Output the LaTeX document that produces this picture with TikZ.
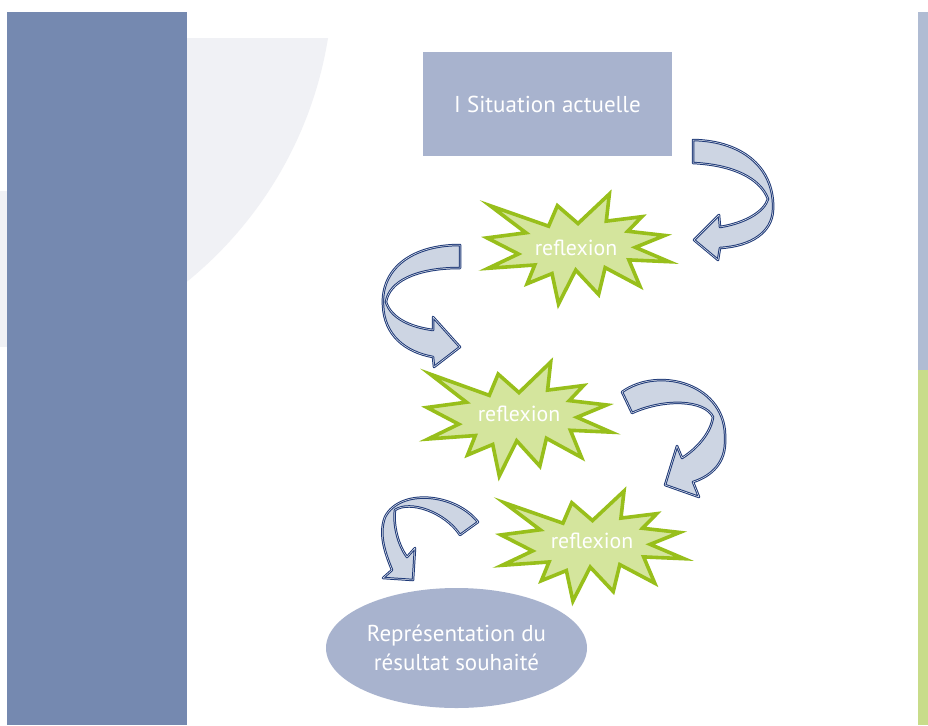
\documentclass[tikz,border=0pt]{standalone}
\usepackage{fontspec}
\setmainfont{PT Sans}
\usetikzlibrary{shapes.geometric}
\definecolor{darkbar}{HTML}{7589B0}
\definecolor{lightbg}{HTML}{F0F1F5}
\definecolor{boxfill}{HTML}{A8B3CE}
\definecolor{rblue}{HTML}{B0BCD3}
\definecolor{rgreen}{HTML}{C8DC8A}
\definecolor{starfill}{HTML}{D4E59D}
\definecolor{starline}{HTML}{98BF1B}
\definecolor{arrowfill}{HTML}{CDD5E3}
\definecolor{arrowline}{HTML}{1F3A78}
\newcommand{\sealpath}{(108,58) -- (145.22,0) -- (141.55,53.25) -- (183.80,44.57) -- (167.02,73.15) -- (210.97,81.37) -- (176.07,104.75) -- (216,132.90) -- (168.37,129.42) -- (181.45,180.95) -- (140.20,144.57) -- (132.47,197.37) -- (105.32,149.35) -- (84.85,216) -- (77.15,156.27) -- (47.62,176.17) -- (56.67,139.37) -- (1.35,145.87) -- (37.22,117.75) -- (0,86.15) -- (46.27,76.17) -- (3.70,22.95) -- (73.12,63.20) -- (83.52,22.95) -- cycle}
\begin{document}
\begin{tikzpicture}[x=1pt,y=-1pt,
  sealshape/.style={fill=starfill, draw=starline, line width=3.6pt, line join=miter},
  curlarrow/.style={fill=arrowfill, draw=arrowline, line width=1pt, double=arrowfill!40!white, double distance=0.5pt, line join=round},
  wtext/.style={text=white, font=\fontsize{23}{29}\selectfont, inner sep=0pt},
  startext/.style={text=white, font=\fontsize{21.8}{26}\selectfont, inner sep=0pt},
  shapebox/.style={fill=boxfill, draw=none}]
\useasboundingbox (0,0) rectangle (928,725);
\fill[white] (0,0) rectangle (928,725);
% background
\begin{scope}
\clip (187,39) rectangle (928,725);
\fill[lightbg] (-62,-25) circle[radius=395];
\end{scope}
\fill[lightbg] (0,191) rectangle (7,347);
\fill[darkbar] (7,12) rectangle (187,725);
\fill[rblue] (918,12) rectangle (928,370);
\fill[rgreen] (918,370) rectangle (928,725);
% top box
\node[shapebox, rectangle, minimum width=249pt, minimum height=104pt, wtext] (situation) at (547.5,104) {I Situation actuelle};
% stars
\begin{scope}[shift={(487,194)}, xscale=182/216, yscale=110/216]
\draw[sealshape] \sealpath;
\end{scope}
\node[startext] (s1) at (576,248) {reflexion};
\begin{scope}[shift={(427,362)}, xscale=184/216, yscale=114/216]
\draw[sealshape] \sealpath;
\end{scope}
\node[startext] (s2) at (519,414) {reflexion};
\begin{scope}[shift={(501,491)}, xscale=183/216, yscale=110/216]
\draw[sealshape] \sealpath;
\end{scope}
\node[startext] (s3) at (592,541) {reflexion};
% ellipse
\node[shapebox, ellipse, minimum width=261pt, minimum height=120pt, wtext, align=center] (result) at (456.5,648) {Représentation du\\résultat souhaité};
% arrows
\draw[curlarrow] (693,140) .. controls (745,141) and (775,170) .. (773,210)
  .. controls (772,232) and (752,246) .. (720,248)
  -- (718,260) -- (694,240) -- (719,215) -- (720,227)
  .. controls (745,223) and (764,212) .. (768,199)
  .. controls (760,178) and (733,165) .. (693,163) -- cycle;
\draw[curlarrow] (460,245) .. controls (410,245) and (381,270) .. (383,305)
  .. controls (384,335) and (405,352) .. (433,357)
  -- (434,367) -- (460,347) -- (433,317) -- (433,330)
  .. controls (410,327) and (391,318) .. (386,302)
  .. controls (389,282) and (415,268) .. (460,268) -- cycle;
\draw[curlarrow] (622,392) .. controls (660,365) and (728,385) .. (725,440)
  .. controls (726,462) and (712,476) .. (693,482)
  -- (699,497) -- (665,485) -- (677,446) -- (682,458)
  .. controls (698,448) and (711,432) .. (713,417)
  .. controls (705,400) and (665,398) .. (632,413) -- cycle;
\draw[curlarrow] (478,522) .. controls (455,493) and (400,488) .. (385,517)
  .. controls (378,535) and (386,555) .. (392,570)
  -- (383,578) -- (413,580) -- (415,548) -- (407,557)
  .. controls (398,545) and (393,525) .. (395,510)
  .. controls (410,500) and (445,512) .. (460,535) -- cycle;
\end{tikzpicture}
\end{document}
